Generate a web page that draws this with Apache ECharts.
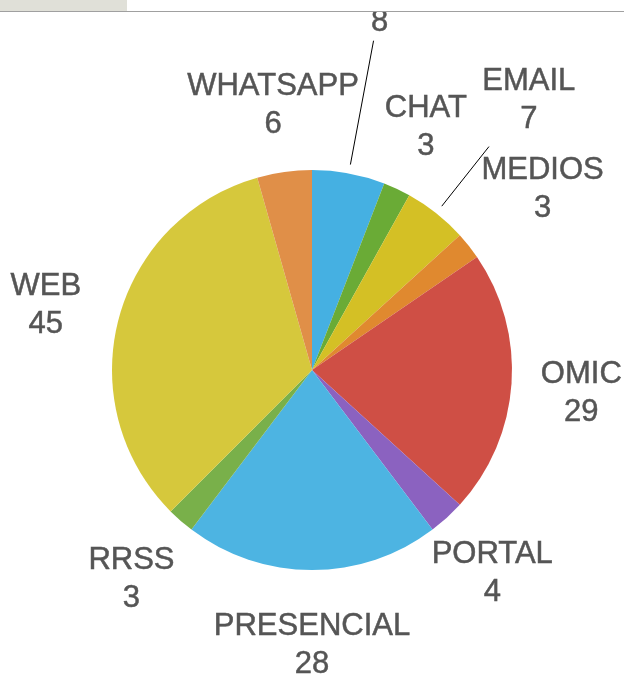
<!DOCTYPE html>
<html>
<head>
<meta charset="utf-8">
<script src="https://cdn.jsdelivr.net/npm/echarts@6/dist/echarts.min.js"></script>
<style>
  html, body { margin: 0; padding: 0; background: #fff; }
  #chart { width: 624px; height: 677px; }
</style>
</head>
<body>
<div id="chart"></div>
<script>
// slices clockwise from 12 o'clock (first slice's name is cut off in the original)
const names = ['', 'CHAT', 'EMAIL', 'MEDIOS', 'OMIC', 'PORTAL', 'PRESENCIAL', 'RRSS', 'WEB', 'WHATSAPP']
const values = [8, 3, 7, 3, 29, 4, 28, 3, 45, 6]
const colors = ['#45b0e2', '#6aab36', '#d4c025', '#e0892f', '#cf4f45', '#8b62c0', '#4db4e2', '#79b04a', '#d6c83c', '#e08f48']

const center = [312, 370]
// nudges [dx, dy] for labels, relative to the ring at r=272
const labelShift = {
    0: [17, -77], 1: [-3, 6], 2: [46, -54], 3: [15, -10], 4: [-5, 4],
    5: [-5, 0], 7: [0, 2], 8: [0, 5], 9: [-1, 8]
}
const leaderLen = { 0: 126, 2: 76 }

var mychart = echarts.init(document.getElementById('chart'))

const pieData = names.map((n, i) => ({ name: n, value: values[i], itemStyle: { color: colors[i] } }))

const lineData = names.map((n, i) => ({
    name: n, value: values[i],
    label: { show: leaderLen[i] != null },
    labelLine: { show: leaderLen[i] != null, length: leaderLen[i] || 10, length2: 0 }
}))

let option = {
    animation: false,
    series: [
        {
            type: 'pie',
            center: center,
            radius: [0, 200],
            startAngle: 90,
            silent: true,
            label: { show: false },
            labelLine: { show: false },
            data: pieData
        },
        {
            // leader lines only
            type: 'pie',
            center: center,
            radius: [0, 209],
            startAngle: 90,
            silent: true,
            avoidLabelOverlap: false,
            itemStyle: { color: 'rgba(0,0,0,0)' },
            label: { position: 'outside', color: 'rgba(0,0,0,0)', fontSize: 10 },
            labelLine: { lineStyle: { color: '#000', width: 1 } },
            data: lineData
        },
        {
            // labels
            type: 'pie',
            center: center,
            radius: [0, 544],
            startAngle: 90,
            silent: true,
            avoidLabelOverlap: false,
            itemStyle: { color: 'rgba(0,0,0,0)' },
            label: {
                position: 'inside',
                fontFamily: 'Liberation Sans, Arial, sans-serif',
                fontSize: 31,
                lineHeight: 38,
                color: '#555',
                textBorderColor: '#555',
                textBorderWidth: 0.5,
                formatter: p => p.name ? p.name + '\n' + p.value : String(p.value)
            },
            labelLine: { show: false },
            labelLayout: function (p) {
                const s = labelShift[p.dataIndex]
                return s ? { dx: s[0], dy: s[1] } : {}
            },
            data: names.map((n, i) => ({ name: n, value: values[i] }))
        }
    ],
    graphic: [
        { type: 'rect', z: 100, shape: { x: 0, y: 0, width: 624, height: 11 }, style: { fill: '#fff' } },
        { type: 'rect', z: 101, shape: { x: 0, y: 0, width: 127, height: 11 }, style: { fill: '#e0e0d8' } },
        { type: 'line', z: 102, shape: { x1: 0, y1: 11.5, x2: 624, y2: 11.5 }, style: { stroke: '#a0a0a0', lineWidth: 1 } }
    ]
};
mychart.setOption(option)
</script>
</body>
</html>
